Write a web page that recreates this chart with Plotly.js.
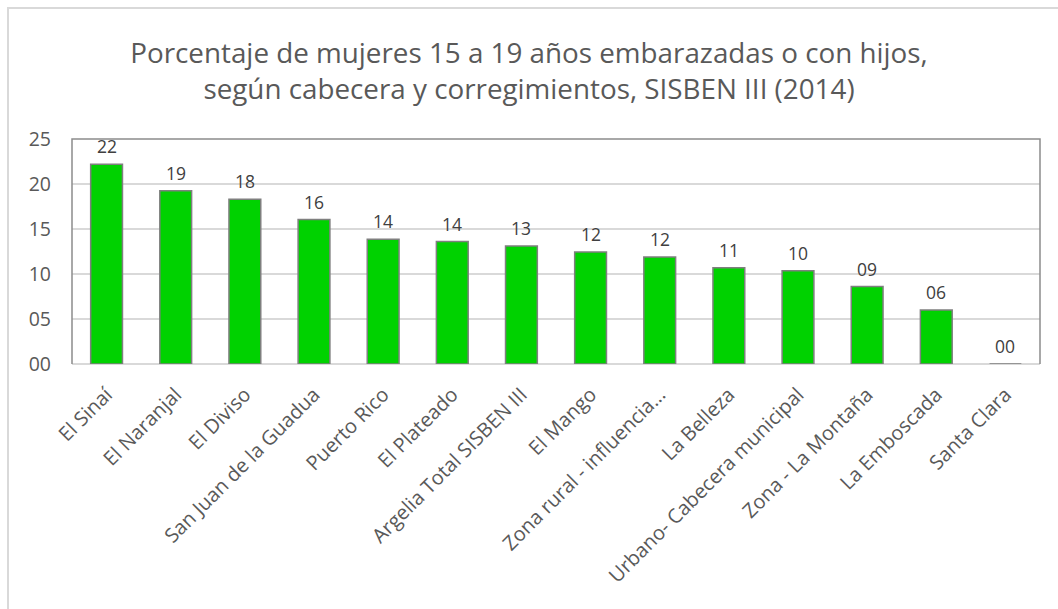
<!DOCTYPE html>
<html>
<head>
<meta charset="utf-8">
<script src="https://cdn.plot.ly/plotly-3.0.1.min.js"></script>
<style>
html,body{margin:0;padding:0;background:#fff;}
#frame{position:absolute;left:7px;top:7px;width:1051px;height:602px;border-top:2px solid #d9d9d9;border-left:2px solid #d9d9d9;box-sizing:border-box;}
#chart{position:absolute;left:0;top:0;width:1058px;height:609px;}
</style>
</head>
<body>
<div id="chart"></div>
<div id="frame"></div>
<script>
const categories = ["El Sinaí","El Naranjal","El Diviso","San Juan de la Guadua","Puerto Rico","El Plateado","Argelia Total SISBEN III","El Mango","Zona rural - influencia...","La Belleza","Urbano- Cabecera municipal","Zona - La Montaña","La Emboscada","Santa Clara"];
const values = [22.2, 19.25, 18.3, 16.05, 13.85, 13.6, 13.1, 12.45, 11.9, 10.7, 10.35, 8.6, 6.0, 0];
const yTicks = [0, 5, 10, 15, 20, 25];
const titleText = "Porcentaje de mujeres 15 a 19 años embarazadas o con hijos,<br>según cabecera y corregimientos, SISBEN III (2014)";

const fontFam = "Open Sans, Noto Sans, sans-serif";
const txtColor = "#595959";

function fmt2(v){ const r = Math.round(v); return (r < 10 ? "0" : "") + r; }

const trace = {
  type: "bar",
  x: categories,
  y: values,
  marker: {color: "#00d200", line: {color: "#7f7f7f", width: 1.5}},
  hoverinfo: "skip"
};

const annotations = categories.map((c, i) => ({
  x: c, y: values[i], xref: "x", yref: "y",
  text: fmt2(values[i]),
  showarrow: false, yanchor: "bottom", yshift: 4,
  font: {family: fontFam, size: 17.5, color: "#404040"}
}));

const layout = {
  width: 1058, height: 609,
  margin: {l: 72, r: 18, t: 139, b: 245},
  paper_bgcolor: "#ffffff", plot_bgcolor: "#ffffff",
  showlegend: false,
  bargap: 0.54,
  title: {text: titleText, x: 0.5, xanchor: "center", yref: "container", y: 1 - 63/609, yanchor: "top",
          font: {family: fontFam, size: 27.8, color: txtColor}},
  xaxis: {type: "category", tickangle: -45, showgrid: false, zeroline: false,
          showline: false, ticks: "", ticklabelstandoff: 14,
          tickfont: {family: fontFam, size: 20, color: txtColor}},
  yaxis: {range: [0, 25], tickvals: yTicks, tickformat: "02d",
          showgrid: true, gridcolor: "#d9d9d9", gridwidth: 1.5,
          zeroline: true, zerolinecolor: "#d9d9d9", zerolinewidth: 1.5,
          showline: false, ticks: "", ticklen: 0, ticklabelstandoff: 20,
          tickfont: {family: fontFam, size: 19.5, color: txtColor}},
  shapes: [{type: "path", xref: "paper", yref: "paper",
            path: "M 0 0 L 0 1 L 1 1 L 1 0",
            line: {color: "#8c8c8c", width: 1.5}}],
  annotations: annotations
};

Plotly.newPlot("chart", [trace], layout, {displayModeBar: false, staticPlot: true});
</script>
</body>
</html>
